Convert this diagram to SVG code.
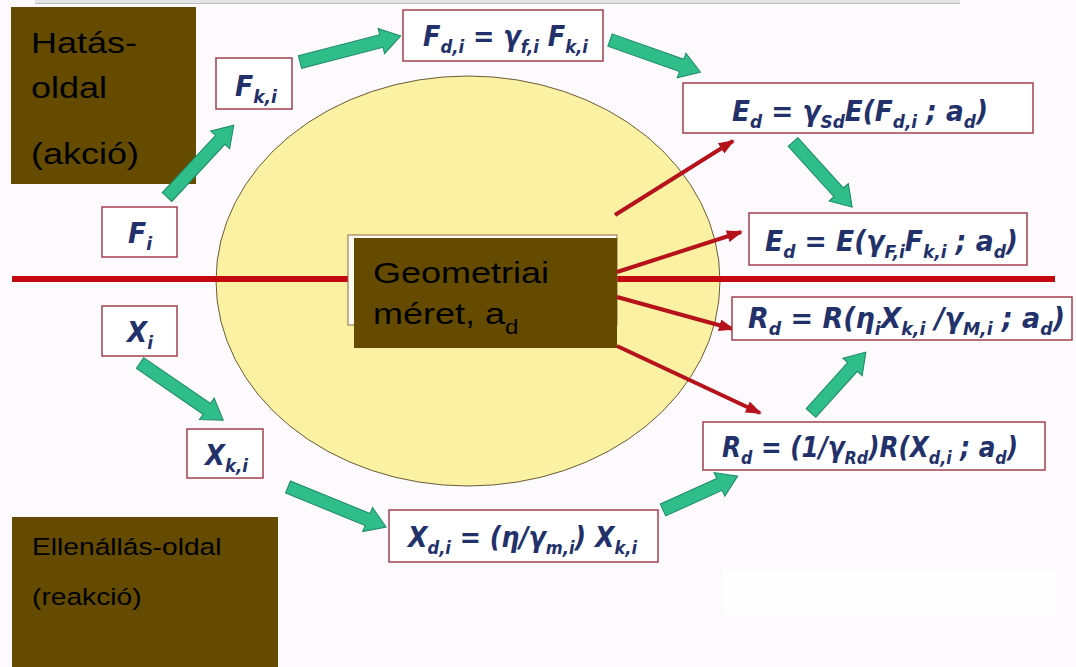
<svg xmlns="http://www.w3.org/2000/svg" width="1076" height="667" viewBox="0 0 1076 667">
<defs>
<style>
.box{fill:#ffffff;stroke:#a3404f;stroke-width:1.5}
.brown{fill:#644b00}
.lbl{font-family:"Liberation Sans",Arial,sans-serif;fill:#000000}
.f{font-family:"DejaVu Sans","Liberation Sans",sans-serif;font-weight:bold;font-style:italic;fill:#22316a;font-size:28px}
.s{font-size:18px}
.g{fill:#2fbd8a;stroke:#1d8a62;stroke-width:1}
.r{stroke:#b5121b;stroke-width:4;fill:none;marker-end:url(#rh)}
</style>
<marker id="rh" markerUnits="userSpaceOnUse" viewBox="0 0 16 12" refX="14" refY="6" markerWidth="16" markerHeight="12" orient="auto">
<path d="M0,0 L16,6 L0,12 Z" fill="#b5121b"/>
</marker>
</defs>
<rect x="0" y="0" width="1076" height="667" fill="#fcfafd"/>
<rect x="35" y="0" width="925" height="3" fill="#e4e4e4"/>
<line x1="35" y1="3.5" x2="960" y2="3.5" stroke="#bdbdbd" stroke-width="1"/>
<rect x="723" y="570" width="334" height="45" fill="#fefefe"/>

<g id="ellipse">
<ellipse cx="468" cy="281" rx="252" ry="205" fill="#fbf1a3" stroke="#6b5a3a" stroke-width="1"/>
</g>
<g id="divider">
<line x1="12" y1="279" x2="1055" y2="279" stroke="#c4080f" stroke-width="6"/>
</g>

<g id="geometriai">
<rect x="348" y="235" width="269" height="90" fill="#fffaf0" stroke="#8a6a50" stroke-width="1"/>
<rect class="brown" x="354" y="238" width="263" height="110"/>
<g transform="translate(373,0) scale(1.2,1)">
<text class="lbl" x="0" y="283" font-size="30">Geometriai</text>
<text class="lbl" x="0" y="324" font-size="30">méret, a<tspan dy="10" font-size="20">d</tspan></text>
</g>
</g>

<g id="hatas">
<rect class="brown" x="11" y="7" width="185" height="177"/>
<g transform="translate(31,0) scale(1.2,1)">
<text class="lbl" x="0" y="53" font-size="30">Hatás-</text>
<text class="lbl" x="0" y="98" font-size="30">oldal</text>
<text class="lbl" x="0" y="164" font-size="30">(akció)</text>
</g>
</g>

<g id="ellenallas">
<rect class="brown" x="12" y="517" width="266" height="150"/>
<g transform="translate(32,0) scale(1.2,1)">
<text class="lbl" x="0" y="555" font-size="23.5">Ellenállás-oldal</text>
<text class="lbl" x="0" y="605" font-size="23.5">(reakció)</text>
</g>
</g>

<g id="connectors">
<path class="g" transform="translate(167,197) rotate(-47.06)" d="M0,-6.5 L78,-6.5 L78,-13 L98,0 L78,13 L78,6.5 L0,6.5 Z"/>
<path class="g" transform="translate(300,62) rotate(-14.44)" d="M0,-6.5 L84,-6.5 L84,-13 L104,0 L84,13 L84,6.5 L0,6.5 Z"/>
<path class="g" transform="translate(610,40) rotate(19.57)" d="M0,-6.5 L76,-6.5 L76,-13 L96,0 L76,13 L76,6.5 L0,6.5 Z"/>
<path class="g" transform="translate(793,142) rotate(47.77)" d="M0,-6.5 L68,-6.5 L68,-13 L88,0 L68,13 L68,6.5 L0,6.5 Z"/>
<path class="g" transform="translate(811,413) rotate(-47.97)" d="M0,-6.5 L62,-6.5 L62,-13 L82,0 L62,13 L62,6.5 L0,6.5 Z"/>
<path class="g" transform="translate(663,510) rotate(-24.39)" d="M0,-6.5 L62,-6.5 L62,-13 L82,0 L62,13 L62,6.5 L0,6.5 Z"/>
<path class="g" transform="translate(288,487) rotate(22.2)" d="M0,-6.5 L86,-6.5 L86,-13 L106,0 L86,13 L86,6.5 L0,6.5 Z"/>
<path class="g" transform="translate(140,363) rotate(34.48)" d="M0,-6.5 L81,-6.5 L81,-13 L101,0 L81,13 L81,6.5 L0,6.5 Z"/>
<line class="r" x1="615" y1="215" x2="733" y2="141"/>
<line class="r" x1="617" y1="272" x2="741" y2="232"/>
<line class="r" x1="617" y1="297" x2="733" y2="329"/>
<line class="r" x1="617" y1="346" x2="760" y2="413"/>
</g>

<g id="Fdi">
<rect class="box" x="403" y="10" width="200" height="51"/>
<text class="f" x="423" y="46" textLength="165" lengthAdjust="spacingAndGlyphs">F<tspan class="s" dy="7">d,i</tspan><tspan dy="-7"> = γ</tspan><tspan class="s" dy="7">f,i</tspan><tspan dy="-7"> F</tspan><tspan class="s" dy="7">k,i</tspan></text>
</g>
<g id="Ed1">
<rect class="box" x="683" y="83" width="350" height="50"/>
<text class="f" x="732" y="121" textLength="256" lengthAdjust="spacingAndGlyphs">E<tspan class="s" dy="7">d</tspan><tspan dy="-7"> = γ</tspan><tspan class="s" dy="7">Sd</tspan><tspan dy="-7">E(F</tspan><tspan class="s" dy="7">d,i</tspan><tspan dy="-7"> ; a</tspan><tspan class="s" dy="7">d</tspan><tspan dy="-7">)</tspan></text>
</g>
<g id="Ed2">
<rect class="box" x="749" y="213" width="278" height="52"/>
<text class="f" x="765" y="251" textLength="253" lengthAdjust="spacingAndGlyphs">E<tspan class="s" dy="7">d</tspan><tspan dy="-7"> = E(γ</tspan><tspan class="s" dy="7">F,i</tspan><tspan dy="-7">F</tspan><tspan class="s" dy="7">k,i</tspan><tspan dy="-7"> ; a</tspan><tspan class="s" dy="7">d</tspan><tspan dy="-7">)</tspan></text>
</g>
<g id="Rd1">
<rect class="box" x="732" y="297" width="340" height="43"/>
<text class="f" x="748" y="328" textLength="317" lengthAdjust="spacingAndGlyphs">R<tspan class="s" dy="7">d</tspan><tspan dy="-7"> = R(η</tspan><tspan class="s" dy="7">i</tspan><tspan dy="-7">X</tspan><tspan class="s" dy="7">k,i</tspan><tspan dy="-7"> /γ</tspan><tspan class="s" dy="7">M,i</tspan><tspan dy="-7"> ; a</tspan><tspan class="s" dy="7">d</tspan><tspan dy="-7">)</tspan></text>
</g>
<g id="Rd2">
<rect class="box" x="703" y="422" width="342" height="48"/>
<text class="f" x="722" y="457" textLength="296" lengthAdjust="spacingAndGlyphs">R<tspan class="s" dy="7">d</tspan><tspan dy="-7"> = (1/γ</tspan><tspan class="s" dy="7">Rd</tspan><tspan dy="-7">)R(X</tspan><tspan class="s" dy="7">d,i</tspan><tspan dy="-7"> ; a</tspan><tspan class="s" dy="7">d</tspan><tspan dy="-7">)</tspan></text>
</g>
<g id="Xdi">
<rect class="box" x="389" y="510" width="269" height="52"/>
<text class="f" x="408" y="547" textLength="229" lengthAdjust="spacingAndGlyphs">X<tspan class="s" dy="7">d,i</tspan><tspan dy="-7"> = (η/γ</tspan><tspan class="s" dy="7">m,i</tspan><tspan dy="-7">) X</tspan><tspan class="s" dy="7">k,i</tspan></text>
</g>
<g id="Fki">
<rect class="box" x="216" y="58" width="76" height="51"/>
<text class="f" x="235" y="96" textLength="42" lengthAdjust="spacingAndGlyphs">F<tspan class="s" dy="7">k,i</tspan></text>
</g>
<g id="Fi">
<rect class="box" x="102" y="207" width="75" height="50"/>
<text class="f" x="128" y="243" textLength="24" lengthAdjust="spacingAndGlyphs">F<tspan class="s" dy="7">i</tspan></text>
</g>
<g id="Xi">
<rect class="box" x="102" y="306" width="75" height="50"/>
<text class="f" x="127" y="342" textLength="26" lengthAdjust="spacingAndGlyphs">X<tspan class="s" dy="7">i</tspan></text>
</g>
<g id="Xki">
<rect class="box" x="187" y="429" width="76" height="49"/>
<text class="f" x="205" y="465" textLength="43" lengthAdjust="spacingAndGlyphs">X<tspan class="s" dy="7">k,i</tspan></text>
</g>
</svg>
